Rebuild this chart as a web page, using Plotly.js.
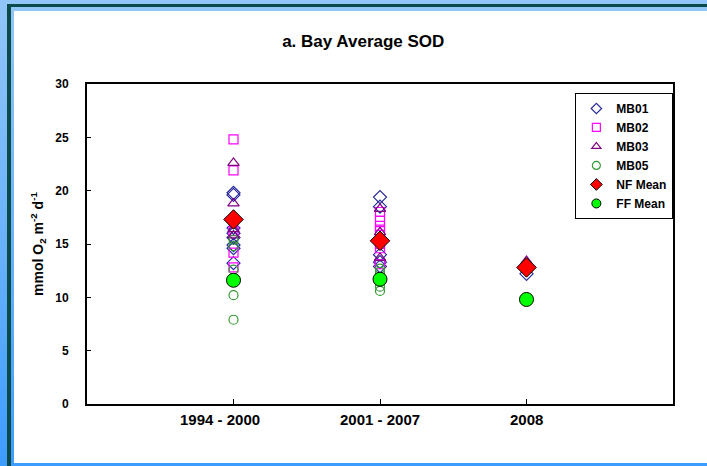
<!DOCTYPE html>
<html><head><meta charset="utf-8">
<script src="https://cdn.plot.ly/plotly-3.0.1.min.js"></script>
<style>
html,body{margin:0;padding:0;}
#wrap{position:relative;width:707px;height:466px;background:linear-gradient(to bottom,#92c6f8 0%,#6cb2fb 50%,#3d9cff 100%);overflow:hidden;}
#teal{position:absolute;left:7px;top:4px;width:700px;height:462px;border-left:4px solid #0b4a4a;border-top:3px solid #0b4a4a;box-sizing:border-box;}
#chart{position:absolute;left:14px;top:11px;width:693px;height:452px;background:#fff;}
</style></head>
<body><div id="wrap"><div id="teal"></div><div id="chart"></div></div>
<script>
const categories = ["1994 - 2000", "2001 - 2007", "2008"];
// values per period
const mb01_p1 = [19.8, 19.6, 16.5, 16.0, 15.6, 14.9, 14.6, 13.2];
const mb01_p2 = [19.4, 18.5, 14.0, 13.3, 12.9];
const mb01_p3 = [12.2];
const mb02_p1 = [24.8, 21.9, 16.2, 14.2, 12.8];
const mb02_p2 = [18.0, 17.2, 16.7, 16.2, 15.0, 14.6, 13.1];
const mb03_p1 = [22.6, 18.8, 16.4, 15.8];
const mb03_p2 = [18.3, 16.1, 13.7];
const mb03_p3 = [13.4];
const mb05_p1 = [15.4, 14.8, 12.6, 10.2, 7.9];
const mb05_p2 = [12.7, 12.4, 11.0, 10.6];
const nfMean = [17.3, 15.3, 12.8];
const ffMean = [11.6, 11.7, 9.8];
const yTicks = [0, 5, 10, 15, 20, 25, 30];
const xLabelShift = [-14, 0, 0];

function expand(groups){
  const x=[], y=[];
  groups.forEach((vals,i)=>{ if(vals) vals.forEach(v=>{x.push(categories[i]); y.push(v);}); });
  return {x, y};
}
const s01 = expand([mb01_p1, mb01_p2, mb01_p3]);
const s02 = expand([mb02_p1, mb02_p2, null]);
const s03 = expand([mb03_p1, mb03_p2, mb03_p3]);
const s05 = expand([mb05_p1, mb05_p2, null]);

const series = [
  {name:"MB01", d:s01, symbol:"diamond-open", size:10, lsize:8, color:"#2b2b9c", line:{width:1.2}},
  {name:"MB02", d:s02, symbol:"square-open", size:9, lsize:8, color:"#ff00ff", line:{width:1.2}},
  {name:"MB03", d:s03, symbol:"triangle-up-open", size:10, lsize:8, color:"#800080", line:{width:1.2}},
  {name:"MB05", d:s05, symbol:"circle-open", size:9, lsize:8, color:"#339933", line:{width:1.2}},
  {name:"NF Mean", d:{x:categories, y:nfMean}, symbol:"diamond", size:15, lsize:9, color:"#ff0000", line:{color:"#000", width:1}},
  {name:"FF Mean", d:{x:categories, y:ffMean}, symbol:"circle", size:14, lsize:9, color:"#00ff00", line:{color:"#000", width:1}}
];
const traces = [];
series.forEach(s=>{
  traces.push({name:s.name, x:s.d.x, y:s.d.y, type:"scatter", mode:"markers", showlegend:false,
    marker:{symbol:s.symbol, size:s.size, color:s.color, line:s.line}});
});
series.forEach(s=>{
  traces.push({name:s.name, x:[null], y:[null], type:"scatter", mode:"markers", showlegend:true,
    marker:{symbol:s.symbol, size:s.lsize, color:s.color, line:s.line}});
});

const annotations = categories.map((c,i)=>({
  x:i, y:0, xref:"x", yref:"paper", yanchor:"top", xanchor:"center", yshift:-5, xshift:xLabelShift[i],
  text:"<b>"+c+"</b>", showarrow:false, font:{size:15, color:"#000"}
}));

const layout = {
  width:693, height:452,
  margin:{l:73, r:34, t:73, b:59},
  paper_bgcolor:"#ffffff", plot_bgcolor:"#ffffff",
  font:{family:"Liberation Sans, Arial, sans-serif", color:"#000"},
  title:{text:"<b>a. Bay Average SOD</b>", font:{size:17, color:"#000"}, x:0.504, xanchor:"center", y:0.934, yanchor:"middle", yref:"container"},
  showlegend:true,
  legend:{x:0.917, y:0.972, xanchor:"center", yanchor:"top", bgcolor:"#fff", bordercolor:"#000", borderwidth:1,
          font:{size:12, color:"#000", weight:"bold"}, itemsizing:"trace", tracegroupgap:0},
  annotations:annotations,
  xaxis:{type:"category", categoryorder:"array", categoryarray:categories, range:[-1, 3],
         showline:true, linecolor:"#000", linewidth:2, mirror:true, showgrid:false, zeroline:false,
         ticks:"inside", ticklen:5, tickwidth:1, tickcolor:"#000", showticklabels:false},
  yaxis:{range:[0,30], tickvals:yTicks, showline:true, linecolor:"#000", linewidth:2, mirror:true,
         showgrid:false, zeroline:false, ticks:"inside", ticklen:4, tickwidth:1, tickcolor:"#000",
         tickfont:{size:12, weight:"bold"}, ticklabelstandoff:14,
         title:{text:"<b>mmol O<sub>2</sub> m<sup>-2</sup> d<sup>-1</sup></b>", font:{size:14}, standoff:8}}
};
Plotly.newPlot("chart", traces, layout, {displayModeBar:false, staticPlot:true});
</script></body></html>
